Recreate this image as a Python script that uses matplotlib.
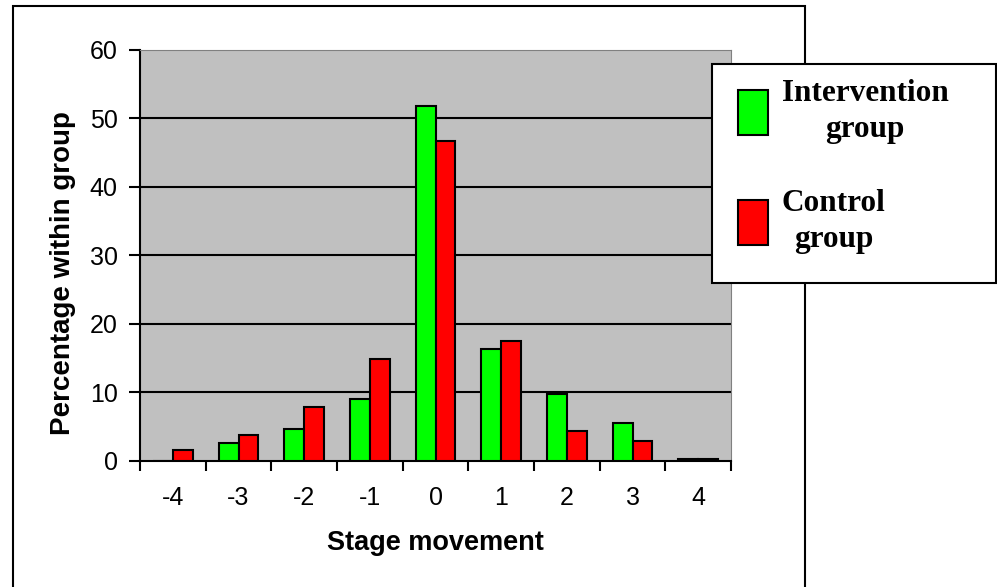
import numpy as np
import matplotlib.pyplot as plt
from matplotlib.patches import Rectangle

plt.rcParams["axes.unicode_minus"] = False

stages = [-4, -3, -2, -1, 0, 1, 2, 3, 4]
intervention = [0.0, 2.6, 4.6, 9.0, 51.8, 16.3, 9.8, 5.5, 0.25]
control = [1.5, 3.8, 7.8, 14.9, 46.6, 17.4, 4.3, 2.9, 0.25]
yticks = [0, 10, 20, 30, 40, 50, 60]

W, H = 997, 587
fig = plt.figure(figsize=(W / 100, H / 100), dpi=100)

# outer chart border
fig.patches.append(Rectangle((13 / W, -0.02), (805 - 13) / W, 1.02 - 6 / H,
                             transform=fig.transFigure, fill=False,
                             edgecolor="black", linewidth=1.5, zorder=0))

ax = fig.add_axes([140 / W, 1 - 460.7 / H, 591 / W, 411.2 / H])
ax.set_facecolor("#C0C0C0")

x = np.array(stages, dtype=float)
bw = 0.3
b1 = ax.bar(x - bw / 2, intervention, bw, color="#00FF00", edgecolor="black",
            linewidth=1.5, zorder=3)
b2 = ax.bar(x + bw / 2, control, bw, color="#FF0000", edgecolor="black",
            linewidth=1.5, zorder=3)

ax.set_xlim(-4.5, 4.5)
ax.set_ylim(0, 60)
ax.set_yticks(yticks)
for t in yticks[1:-1]:
    ax.axhline(t, color="black", linewidth=1.5, zorder=1)

ax.set_xticks(stages)
ax.set_xticks(np.arange(-4.5, 5.0, 1.0), minor=True)
ax.tick_params(axis="x", which="major", length=0, pad=18, labelsize=18)
ax.tick_params(axis="x", which="minor", length=7, width=1.5, direction="out")
ax.tick_params(axis="y", length=8, width=1.5, direction="out", pad=8, labelsize=18)
for lab in ax.get_xticklabels() + ax.get_yticklabels():
    lab.set_fontfamily("Liberation Sans")

ax.spines["left"].set_linewidth(1.5)
ax.spines["bottom"].set_linewidth(1.5)
ax.spines["top"].set_color("#808080")
ax.spines["right"].set_color("#808080")

ax.set_ylabel("Percentage within group", fontsize=20, fontweight="bold",
              fontfamily="Liberation Sans")
ax.yaxis.label.set_va("center")
ax.yaxis.set_label_coords(-0.13, 0.456)
ax.set_xlabel("Stage movement", fontsize=19.5, fontweight="bold",
              fontfamily="Liberation Sans")
ax.xaxis.label.set_va("center")
ax.xaxis.set_label_coords(0.5, -0.2)

# legend box
fig.patches.append(Rectangle((712 / W, 1 - 283 / H), (996 - 712) / W, (283 - 64) / H,
                             transform=fig.transFigure, facecolor="white",
                             edgecolor="black", linewidth=1.5, zorder=5))
leg = fig.legend([b1, b2], ["Intervention\ngroup", "Control\ngroup"],
                 loc="upper left", bbox_to_anchor=(738 / W, 1 - 79 / H),
                 frameon=False, borderaxespad=0, borderpad=0,
                 handlelength=0.95, handleheight=1.85, handletextpad=0.45,
                 labelspacing=1.45,
                 prop={"family": "Liberation Serif", "weight": "bold", "size": 22.5})
leg.set_zorder(6)
for t in leg.get_texts():
    t.set_multialignment("center")
    t.set_linespacing(1.3)

fig.savefig("out.png", dpi=100)
